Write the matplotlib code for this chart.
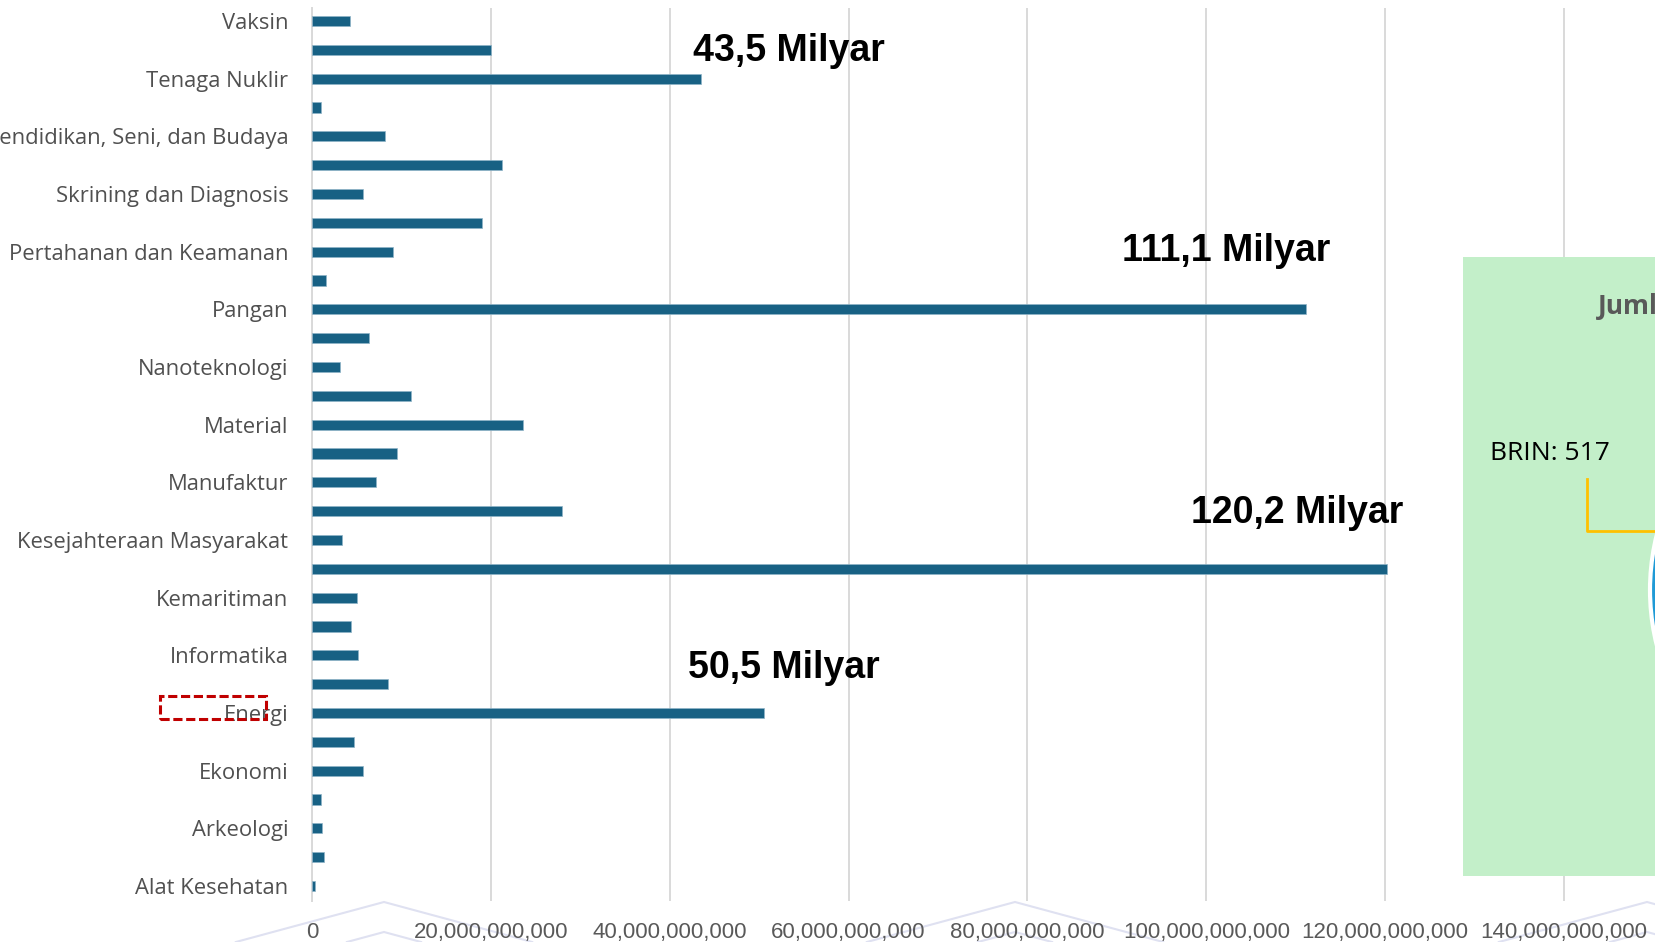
import matplotlib
matplotlib.use('Agg')
import matplotlib.pyplot as plt
import numpy as np
from matplotlib.patches import Rectangle, Ellipse
from matplotlib.lines import Line2D
from matplotlib.ticker import FuncFormatter, MultipleLocator

# categories top -> bottom ('' = label hidden by the axis)
labels = ['Vaksin', '', 'Tenaga Nuklir', '', 'Pendidikan, Seni, dan Budaya', '',
          'Skrining dan Diagnosis', '', 'Pertahanan dan Keamanan', '', 'Pangan', '',
          'Nanoteknologi', '', 'Material', '', 'Manufaktur', '',
          'Kesejahteraan Masyarakat', '', 'Kemaritiman', '', 'Informatika', '',
          'Energi', '', 'Ekonomi', '', 'Arkeologi', '', 'Alat Kesehatan']
# funding in billions of rupiah, same order
funding_bn = [4.25, 20.0, 43.5, 0.97, 8.16, 21.2, 5.74, 19.0, 9.1, 1.57, 111.1, 6.4,
              3.17, 11.1, 23.6, 9.5, 7.2, 28.0, 3.3, 120.2, 5.0, 4.36, 5.18, 8.53,
              50.5, 4.7, 5.7, 0.97, 1.08, 1.3, 0.3]
callouts = ['43,5 Milyar', '111,1 Milyar', '120,2 Milyar', '50,5 Milyar']
callout_pos = [(42.6, 1.04), (90.6, 7.98), (98.3, 17.06), (42.0, 22.44)]

W, H = 1656, 942
fig = plt.figure(figsize=(W / 100, H / 100), dpi=100)
ax = fig.add_axes([312 / W, 41 / H, 160 * 8.943 / W, 893 / H])
ax.patch.set_alpha(0)

y = np.arange(len(labels))
vals = np.array(funding_bn) * 1e9
ax.barh(y, vals, height=0.35, color='#186184', edgecolor='#8fb4c8', linewidth=0.5, zorder=3)

ax.set_xlim(0, 160e9)
ax.set_ylim(30.52, -0.45)
ax.xaxis.set_major_locator(MultipleLocator(20e9))
ax.xaxis.set_major_formatter(FuncFormatter(lambda v, p: '{:,.0f}'.format(v)))
ax.grid(axis='x', color='#d9d9d9', linewidth=1.4, zorder=0)
ax.set_axisbelow(True)
for s in ['top', 'right', 'bottom']:
    ax.spines[s].set_visible(False)
ax.spines['left'].set_color('#d9d9d9')
ax.spines['left'].set_linewidth(1.4)

tick_rows = [i for i, l in enumerate(labels) if l]
ax.set_yticks(tick_rows)
ax.set_yticklabels([labels[i] for i in tick_rows], fontsize=15.8, color='#505050',
                   family='Open Sans')
ax.tick_params(axis='y', length=0, pad=17)
ax.tick_params(axis='x', length=0, pad=15, labelsize=16, labelcolor='#595959')
for t in ax.get_xticklabels():
    t.set_family('Liberation Sans')

for txt, (xv, yv) in zip(callouts, callout_pos):
    ax.text(xv * 1e9, yv, txt, fontsize=27, fontweight='bold', family='Liberation Sans',
            color='black', va='center', ha='left', zorder=4)

# red dashed highlight around "Energi"
fig.add_artist(Rectangle((160.5 / W, (H - 719) / H), 105.5 / W, 23 / H, transform=fig.transFigure,
                         fill=False, edgecolor='#c00000', linewidth=2.2,
                         linestyle=(0, (3, 1.2)), zorder=10))

# overlapping green panel on the right
fig.add_artist(Rectangle((1463 / W, (H - 875.5) / H), 0.2, 618.5 / H, transform=fig.transFigure,
                         facecolor='#c3efc9', edgecolor='none', zorder=5))
fig.text(1598 / W, (H - 306) / H, 'Jumlah', fontsize=19, fontweight='bold', color='#595959',
         family='Open Sans', va='center', ha='left', zorder=6)
fig.text(1490 / W, (H - 453) / H, 'BRIN: 517', fontsize=19, color='black',
         family='Open Sans', va='center', ha='left', zorder=6)
fig.add_artist(Line2D([1587 / W, 1587 / W, 1.05], [(H - 479) / H, (H - 531) / H, (H - 531) / H],
                      transform=fig.transFigure, color='#ffc000', linewidth=2, zorder=6))
fig.add_artist(Ellipse((1878 / W, (H - 590) / H), 2 * 228 / W, 2 * 228 / H, transform=fig.transFigure,
                       facecolor='#1f9ad6', edgecolor='white', linewidth=3, zorder=6))

# faint watermark chevrons at the bottom
for px in [384, 1015, 1647]:
    for py in [902, 932]:
        d = (H - py) / 0.27
        fig.add_artist(Line2D([(px - d) / W, px / W, (px + d) / W], [0, (H - py) / H, 0],
                              transform=fig.transFigure, color='#dfe1f1', linewidth=1.5, zorder=-1))

plt.savefig('out.png', dpi=100)
